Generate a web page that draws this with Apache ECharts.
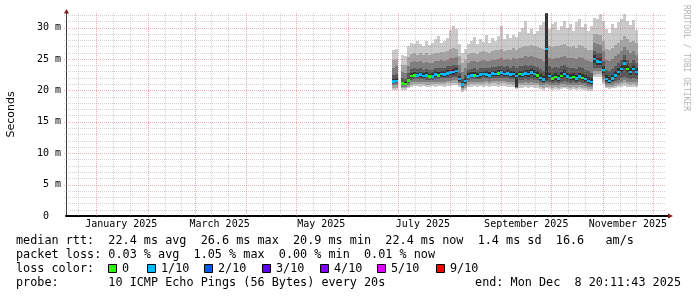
<!DOCTYPE html>
<html><head><meta charset="utf-8">
<script src="https://cdn.jsdelivr.net/npm/echarts@6/dist/echarts.min.js"></script>
<style>html,body{margin:0;padding:0;background:#fff}#c{width:697px;height:297px}</style>
</head><body><div id="c"></div>
<script>
// ---------- data ----------
const endTime = Date.UTC(2025, 11, 8, 20, 11, 43);
const spanDays = 360;
const sampleStart = Date.UTC(2025, 5, 27, 10, 30);
const sampleHours = 43.2;

const xLabelMonths = ['2025-01', '2025-03', '2025-05', '2025-07', '2025-09', '2025-11'];
const xLabelTexts = ['January 2025', 'March 2025', 'May 2025', 'July 2025', 'September 2025', 'November 2025'];
const yTickValues = [0, 5, 10, 15, 20, 25, 30];
const yTickLabels = ['0  ', '5 m', '10 m', '15 m', '20 m', '25 m', '30 m'];

// sorted ping times (ms) per column, ping1 = fastest, ping10 = slowest
const ping1 = [20.0,20.1,null,20.0,20.1,20.3,20.6,20.7,20.7,20.6,
 20.7,20.6,20.6,20.7,20.6,20.7,20.7,20.6,20.7,20.7,
 20.8,20.8,20.5,19.8,20.0,20.5,20.6,20.7,20.6,20.7,
 20.6,20.7,20.6,20.7,20.7,20.6,20.7,20.7,20.6,20.6,
 20.5,20.2,20.4,20.4,20.5,20.4,20.5,20.4,20.4,20.2,
 20.1,20.3,20.2,20.1,20.2,20.1,20.2,20.3,20.2,20.1,
 20.2,20.1,20.2,20.1,20.0,19.9,19.9,22.1,22.2,22.2,
 21.0,20.3,20.2,20.3,20.4,20.5,20.6,20.7,20.6,20.5,
 20.6,20.5];
const ping2 = [20.4,20.4,null,20.3,20.4,20.6,20.9,21.0,21.0,21.0,
 21.0,20.9,20.9,21.0,21.0,21.0,21.0,21.0,21.1,21.1,
 21.2,21.2,20.8,20.1,20.3,20.9,21.0,21.0,21.0,21.0,
 21.0,21.1,21.0,21.1,21.1,21.0,21.1,21.1,21.0,21.0,
 20.9,20.3,20.8,20.8,20.9,20.8,20.9,20.8,20.8,20.5,
 20.4,20.6,20.5,20.4,20.5,20.4,20.6,20.6,20.5,20.4,
 20.5,20.4,20.5,20.4,20.3,20.2,20.2,22.5,22.6,22.6,
 21.4,20.6,20.5,20.6,20.7,20.8,21.0,21.1,21.0,20.9,
 21.0,20.9];
const ping3 = [20.8,20.8,null,20.6,20.6,20.9,21.3,21.4,21.4,21.4,
 21.4,21.3,21.3,21.3,21.4,21.4,21.4,21.4,21.5,21.5,
 21.6,21.7,21.1,20.4,20.7,21.3,21.4,21.4,21.4,21.4,
 21.4,21.5,21.4,21.5,21.5,21.5,21.5,21.5,21.4,21.4,
 21.3,20.4,21.2,21.2,21.3,21.2,21.3,21.2,21.2,20.9,
 20.8,21.0,20.9,20.8,20.9,20.8,21.0,21.0,20.9,20.8,
 20.9,20.8,20.9,20.8,20.7,20.6,20.5,23.0,23.1,23.0,
 21.8,20.9,20.8,20.9,21.1,21.2,21.4,21.6,21.4,21.3,
 21.4,21.3];
const ping4 = [21.0,21.1,null,20.8,20.8,21.2,21.7,21.8,21.8,21.8,
 21.8,21.7,21.7,21.7,21.8,21.8,21.9,21.9,22.0,22.0,
 22.1,22.2,21.4,20.6,21.0,21.7,21.8,21.8,21.8,21.8,
 21.9,21.9,21.8,22.0,21.9,21.9,22.0,21.9,21.9,21.8,
 21.8,20.5,21.7,21.7,21.8,21.7,21.8,21.7,21.6,21.3,
 21.1,21.4,21.3,21.2,21.3,21.2,21.4,21.5,21.3,21.2,
 21.3,21.2,21.3,21.2,21.1,20.9,20.8,23.6,23.6,23.5,
 22.3,21.2,21.1,21.3,21.5,21.7,21.9,22.2,21.9,21.8,
 22.0,21.8];
const ping5 = [21.15,21.25,null,20.9,20.85,21.35,21.95,22.05,22.05,22.1,
 22.0,22.05,21.9,21.9,22.15,22.05,22.25,22.15,22.35,22.4,
 22.5,22.7,21.55,20.7,21.2,21.9,22.05,22.05,21.95,22.15,
 22.25,22.15,22.05,22.35,22.25,22.3,22.4,22.25,22.3,22.15,
 22.2,20.6,22.2,22.1,22.3,22.2,22.4,22.2,22.0,21.6,
 21.35,21.6,21.9,21.5,21.7,21.5,21.9,22.2,21.8,21.6,
 21.7,21.5,21.8,21.6,21.4,21.15,21.0,24.4,24.1,24.0,
 22.8,21.45,21.2,21.55,22.0,22.45,22.9,23.6,22.9,22.4,
 22.9,22.4];
const median = [21.4,21.5,null,21.1,21.0,21.6,22.3,22.4,22.4,22.5,
 22.3,22.4,22.2,22.2,22.5,22.4,22.6,22.5,22.7,22.8,
 22.9,23.1,21.8,20.9,21.5,22.2,22.4,22.4,22.3,22.5,
 22.6,22.5,22.4,22.7,22.6,22.7,22.8,22.6,22.7,22.5,
 22.6,22.3,22.6,22.5,22.7,22.6,22.8,22.6,22.4,22.0,
 21.7,26.6,22.3,21.9,22.1,21.9,22.3,22.6,22.2,22.0,
 22.1,21.9,22.2,22.0,21.8,21.5,21.3,25.0,24.6,24.5,
 23.2,21.8,21.5,21.9,22.4,22.9,23.4,24.3,23.4,22.9,
 23.4,22.9];
const ping6 = [21.8,21.9,null,21.4,21.3,22.0,22.75,22.85,22.8,22.95,
 22.75,22.85,22.65,22.7,23.0,22.9,23.05,23.0,23.2,23.3,
 23.4,23.6,22.3,21.3,21.95,22.7,22.85,22.9,22.75,22.95,
 23.05,23.0,22.9,23.15,23.1,23.2,23.3,23.1,23.2,23.0,
 23.15,22.8,23.15,23.1,23.3,23.2,23.4,23.2,23.0,22.6,
 22.35,32.2,22.8,22.5,22.7,22.5,22.9,23.2,22.8,22.6,
 22.7,22.5,22.8,22.6,22.4,22.1,21.9,25.6,25.2,25.1,
 23.8,22.4,22.1,22.5,23.0,23.5,24.0,24.9,24.0,23.5,
 24.0,23.5];
const ping7 = [22.4,22.6,null,21.9,21.8,22.7,23.4,23.5,23.4,23.5,
 23.3,23.4,23.2,23.3,23.6,23.5,23.6,23.6,23.8,23.9,
 24.0,24.1,22.8,21.8,22.5,23.3,23.4,23.5,23.3,23.5,
 23.6,23.6,23.5,23.7,23.7,23.8,23.9,23.7,23.8,23.6,
 23.8,23.6,23.8,23.8,24.0,23.9,24.1,23.9,23.7,23.4,
 23.1,32.25,23.8,23.5,23.7,23.5,23.8,24.0,23.7,23.6,
 23.6,23.4,23.7,23.5,23.3,23.0,22.8,26.3,26.0,25.9,
 24.7,23.3,23.0,23.4,23.9,24.3,24.8,25.6,24.9,24.4,
 24.8,24.3];
const ping8 = [23.5,23.8,null,22.9,22.8,23.9,24.5,24.6,24.5,24.7,
 24.4,24.5,24.3,24.4,24.7,24.6,24.8,24.7,24.9,25.1,
 25.2,25.3,24.0,22.9,23.6,24.4,24.6,24.6,24.5,24.7,
 24.8,24.7,24.7,24.9,24.9,25.0,25.1,24.9,25.0,24.9,
 25.1,25.0,25.2,25.2,25.4,25.3,25.5,25.3,25.2,25.0,
 24.7,32.3,25.2,25.0,25.2,25.1,25.3,25.5,25.2,25.1,
 25.2,25.0,25.3,25.1,24.9,24.6,24.5,27.5,27.3,27.2,
 26.2,24.8,24.6,25.0,25.4,25.8,26.2,26.9,26.4,25.9,
 26.2,25.7];
const ping9 = [24.8,25.0,null,24.0,24.1,25.3,25.8,25.9,25.7,26.0,
 25.6,25.9,25.6,25.8,26.0,25.9,26.1,26.1,26.3,26.6,
 26.7,26.6,25.4,24.3,24.9,25.8,26.0,26.0,25.8,26.1,
 26.2,26.1,26.0,26.3,26.4,26.5,26.6,26.3,26.5,26.4,
 26.7,26.5,26.8,26.9,27.0,27.0,27.2,27.0,26.9,26.8,
 26.6,32.3,27.0,26.9,27.1,27.0,27.2,27.3,27.0,26.9,
 27.1,26.8,27.2,27.0,26.8,26.5,26.5,29.0,28.9,28.8,
 27.9,26.6,26.4,26.8,27.2,27.6,28.0,28.6,28.1,27.7,
 27.9,27.5];
const ping10 = [26.4,26.6,null,25.6,25.5,27.0,27.6,27.3,27.8,27.4,
 27.0,27.9,27.2,27.5,28.2,28.6,27.6,27.9,28.4,29.6,
 30.3,29.8,27.3,25.9,26.6,27.4,27.8,28.5,27.3,28.1,
 27.7,28.8,27.6,28.3,27.9,28.6,30.2,28.2,29.0,28.4,
 28.8,28.5,29.3,30.0,31.0,29.2,29.8,28.9,29.5,30.4,
 30.8,32.3,29.8,30.6,30.9,29.6,30.3,31.1,29.9,30.5,
 29.5,30.8,31.4,30.1,30.6,29.4,30.2,31.5,31.3,32.2,
 31.0,29.8,29.2,30.5,29.9,30.8,31.4,32.1,31.0,30.4,
 31.2,29.6];
// lost pings out of 10 per column
const lossCount = [1,1,null,0,0,0,0,0,1,1,
 1,1,0,1,1,0,1,1,1,1,
 1,1,1,1,1,1,1,0,1,1,
 1,1,1,1,1,0,1,1,1,1,
 1,1,0,1,1,1,1,1,0,1,
 1,1,1,0,0,1,0,1,1,1,
 0,1,1,0,1,1,1,1,1,1,
 1,1,1,1,1,1,1,1,0,1,
 1,1];

const lossLabels = ['0', '1/10', '2/10', '3/10', '4/10', '5/10', '9/10'];
const lossSteps = [0, 1, 2, 3, 4, 5, 9];
const lossColors = ['#26ff00', '#00b8ff', '#0059ff', '#5e00ff', '#7e00ff', '#dd00ff', '#ff0000'];

const legendLine1 = 'median rtt:  22.4 ms avg  26.6 ms max  20.9 ms min  22.4 ms now  1.4 ms sd  16.6   am/s';
const legendLine2 = 'packet loss: 0.03 % avg  1.05 % max  0.00 % min  0.01 % now';
const legendLine3 = 'loss color:';
const legendProbe = 'probe:       10 ICMP Echo Pings (56 Bytes) every 20s';
const legendEnd = 'end: Mon Dec  8 20:11:43 2025';
const watermark = 'RRDTOOL / TOBI OETIKER';

// ---------- build ----------
const DAY = 86400000;
const xMin = endTime - spanDays * DAY;
const xMax = endTime;
const yMax = 32.31;
const sampleMs = sampleHours * 3600000;

const smokeGrays = ['#cacaca', '#a4a4a4', '#7e7e7e', '#585858', '#323232'];
const medHalf = 0.2;

const smokeData = [];
for (let i = 0; i < median.length; i++) {
  if (median[i] == null) continue;
  const t0 = sampleStart + i * sampleMs;
  smokeData.push([t0, t0 + sampleMs, ping1[i], ping2[i], ping3[i], ping4[i], ping5[i],
    median[i], ping6[i], ping7[i], ping8[i], ping9[i], ping10[i], lossCount[i]]);
}

function lossColor(n) {
  let c = lossColors[0];
  for (let k = 0; k < lossSteps.length; k++) if (n >= lossSteps[k]) c = lossColors[k];
  return c;
}

// grid lines: 1st (major), 11th, 21st of each month
const xGridData = [];
for (let m = -1; m <= 12; m++) {
  [1, 11, 21].forEach(d => {
    const t = Date.UTC(2025, m, d);
    if (t > xMin && t < xMax) xGridData.push([t, d === 1 ? 1 : 0]);
  });
}
const yGridData = [];
for (let v = 1; v <= Math.floor(yMax); v++) yGridData.push([v, v % 5 === 0 ? 1 : 0]);

const minorColor = 'rgba(143,143,143,0.38)';
const majorColor = 'rgba(222,79,79,0.45)';

const xLabelValues = xLabelMonths.map(s => {
  const [y, m] = s.split('-').map(Number);
  return Date.UTC(y, m - 1, 1) + 15 * DAY;
});

const monoFont = '"DejaVu Sans Mono"';

const option = {
  animation: false,
  backgroundColor: '#ffffff',
  grid: { left: 66, right: 31, top: 13, bottom: 81, containLabel: false, outerBoundsMode: 'none' },
  xAxis: {
    type: 'value', min: xMin, max: xMax,
    splitLine: { show: false }, axisTick: { show: false },
    axisLine: { show: true, onZero: false, lineStyle: { color: '#000', width: 2 } },
    axisLabel: {
      customValues: xLabelValues,
      formatter: v => { const k = xLabelValues.indexOf(v); return k >= 0 ? xLabelTexts[k] : ''; },
      fontFamily: monoFont, fontSize: 10, color: '#000', margin: 3
    }
  },
  yAxis: {
    type: 'value', min: 0, max: yMax, interval: 5,
    splitLine: { show: false }, axisTick: { show: false },
    axisLine: { show: true, lineStyle: { color: '#3a3a3a', width: 1 } },
    axisLabel: {
      customValues: yTickValues,
      formatter: v => { const k = yTickValues.indexOf(v); return k >= 0 ? yTickLabels[k] : ''; },
      fontFamily: monoFont, fontSize: 10, color: '#000', margin: 5
    },
    name: 'Seconds', nameLocation: 'middle', nameGap: 49,
    nameTextStyle: { fontFamily: '"DejaVu Sans"', fontSize: 11, color: '#000' }
  },
  series: [
    {
      type: 'custom', name: 'smoke', z: 2, silent: true,
      encode: { x: [0, 1], y: [2, 12] },
      data: smokeData,
      renderItem: (params, api) => {
        const t0 = api.value(0), t1 = api.value(1);
        const x0 = Math.round(api.coord([t0, 0])[0]);
        const x1 = Math.round(api.coord([t1, 0])[0]);
        const children = [];
        for (let b = 0; b < 5; b++) {
          const yLo = Math.round(api.coord([t0, api.value(2 + b)])[1]);
          const yHi = Math.round(api.coord([t0, api.value(12 - b)])[1]);
          children.push({ type: 'rect', shape: { x: x0, y: yHi, width: x1 - x0, height: Math.max(1, yLo - yHi) },
            style: { fill: smokeGrays[b] } });
        }
        const med = api.value(7);
        const mTop = Math.round(api.coord([t0, med + medHalf])[1]);
        const mBot = Math.round(api.coord([t0, med - medHalf])[1]);
        children.push({ type: 'rect', shape: { x: x0, y: mTop, width: x1 - x0, height: Math.max(2, mBot - mTop) },
          style: { fill: lossColor(api.value(13)) } });
        return { type: 'group', children };
      }
    },
    {
      type: 'custom', name: 'xgrid', z: 5, silent: true,
      encode: { x: 0 }, data: xGridData,
      renderItem: (params, api) => {
        const t = api.value(0);
        const x = Math.round(api.coord([t, 0])[0]) + 0.5;
        const yb = api.coord([t, 0])[1];
        const yt = api.coord([t, yMax])[1];
        return { type: 'line', shape: { x1: x, y1: yb + 2, x2: x, y2: yt },
          style: { stroke: api.value(1) ? majorColor : minorColor, lineWidth: 1, lineDash: [1, 1] } };
      }
    },
    {
      type: 'custom', name: 'ygrid', z: 5, silent: true,
      encode: { y: 0 }, data: yGridData,
      renderItem: (params, api) => {
        const v = api.value(0);
        const y = Math.round(api.coord([xMin, v])[1]) + 0.5;
        const xl = api.coord([xMin, v])[0];
        const xr = api.coord([xMax, v])[0];
        return { type: 'line', shape: { x1: xl - 2, y1: y, x2: xr, y2: y },
          style: { stroke: api.value(1) ? majorColor : minorColor, lineWidth: 1, lineDash: [1, 1] } };
      }
    }
  ]
};

const chart = echarts.init(document.getElementById('c'), null, { renderer: 'canvas', width: 697, height: 297, devicePixelRatio: 1 });
chart.setOption(option);

// decorations: arrows, legend, watermark
const org = chart.convertToPixel({ gridIndex: 0 }, [xMin, 0]);
const tr = chart.convertToPixel({ gridIndex: 0 }, [xMax, yMax]);
const arrowColor = '#801f1f';
const axX = Math.round(org[0]) + 0.5;
const axY = org[1];
const plotTop = tr[1];
const plotRight = tr[0];

const legendFont = '11.8px ' + monoFont;
const lineY = [241, 255, 269, 283];
const legendX = 16;
const boxX = [108, 146.7, 204.4, 262.2, 320, 376.9, 435.6];

const graphics = [
  { type: 'polygon', silent: true, z: 100, shape: { points: [[axX - 2.5, plotTop + 0.5], [axX + 2.5, plotTop + 0.5], [axX, plotTop - 4]] }, style: { fill: arrowColor } },
  { type: 'line', silent: true, z: 99, shape: { x1: plotRight, y1: axY, x2: plotRight + 3, y2: axY }, style: { stroke: '#000', lineWidth: 2 } },
  { type: 'polygon', silent: true, z: 100, shape: { points: [[plotRight + 2, axY - 2.5], [plotRight + 2, axY + 2.5], [plotRight + 7, axY]] }, style: { fill: arrowColor } },
  { type: 'text', silent: true, x: legendX, y: lineY[0], style: { text: legendLine1, font: legendFont, fill: '#000', align: 'left', verticalAlign: 'middle', textAlign: 'left', textVerticalAlign: 'middle' } },
  { type: 'text', silent: true, x: legendX, y: lineY[1], style: { text: legendLine2, font: legendFont, fill: '#000', align: 'left', verticalAlign: 'middle', textAlign: 'left', textVerticalAlign: 'middle' } },
  { type: 'text', silent: true, x: legendX, y: lineY[2], style: { text: legendLine3, font: legendFont, fill: '#000', align: 'left', verticalAlign: 'middle', textAlign: 'left', textVerticalAlign: 'middle' } },
  { type: 'text', silent: true, x: legendX, y: lineY[3], style: { text: legendProbe, font: legendFont, fill: '#000', align: 'left', verticalAlign: 'middle', textAlign: 'left', textVerticalAlign: 'middle' } },
  { type: 'text', silent: true, x: 681, y: lineY[3], style: { text: legendEnd, font: legendFont, fill: '#000', align: 'right', verticalAlign: 'middle', textAlign: 'right', textVerticalAlign: 'middle' } },
  { type: 'text', silent: true, x: 686.5, y: 5, rotation: -Math.PI / 2, style: { text: watermark, font: '8px ' + monoFont, fill: '#b4b4b4', align: 'left', verticalAlign: 'middle', textAlign: 'left', textVerticalAlign: 'middle' } }
];
lossLabels.forEach((lab, k) => {
  graphics.push({ type: 'rect', silent: true, shape: { x: Math.round(boxX[k]) + 0.5, y: lineY[2] - 4.5, width: 8, height: 8 },
    style: { fill: lossColors[k], stroke: '#000', lineWidth: 1 } });
  graphics.push({ type: 'text', silent: true, x: Math.round(boxX[k]) + 14, y: lineY[2],
    style: { text: lab, font: legendFont, fill: '#000', align: 'left', verticalAlign: 'middle', textAlign: 'left', textVerticalAlign: 'middle' } });
});
chart.setOption({ graphic: graphics });
</script>
</body></html>
